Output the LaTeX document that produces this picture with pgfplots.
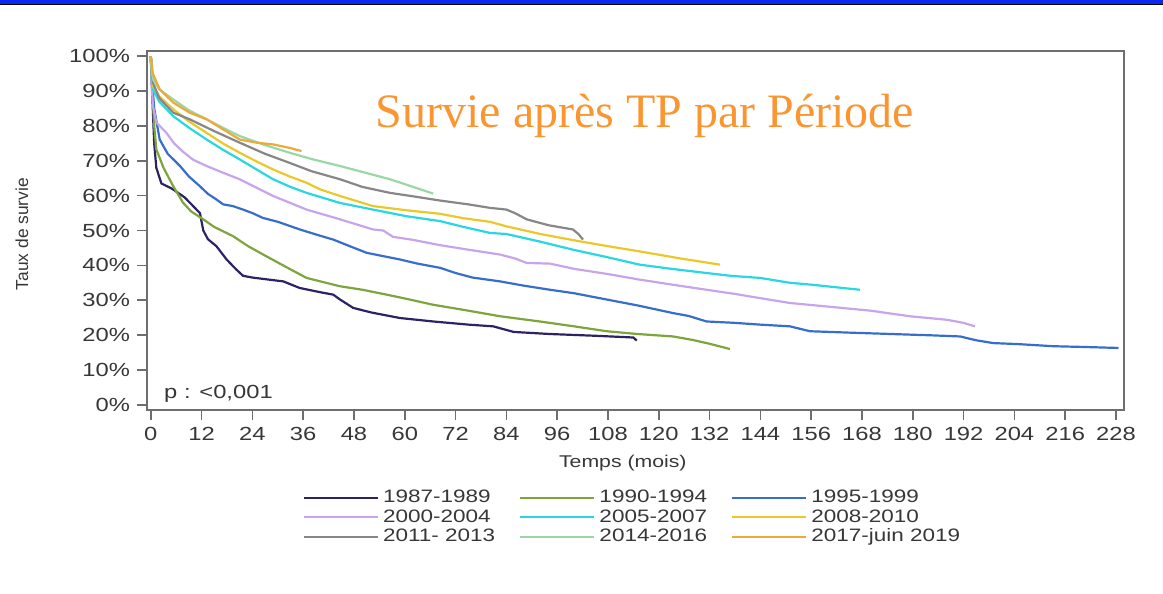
\documentclass[border=0pt]{standalone}
\usepackage{fontspec}
\usepackage{pgfplots}
\pgfplotsset{compat=1.18}
\setmainfont{Liberation Sans}
\newfontfamily\lab[FakeStretch=1.25]{Liberation Sans}
\newfontfamily\titlefont{Liberation Serif}

\definecolor{topblue}{RGB}{10,40,240}
\definecolor{titleorange}{RGB}{250,150,50}
\definecolor{textgray}{RGB}{55,55,55}
\definecolor{axisgray}{RGB}{110,110,110}
\definecolor{cA}{RGB}{45,35,100}
\definecolor{cB}{RGB}{125,165,60}
\definecolor{cC}{RGB}{55,110,205}
\definecolor{cD}{RGB}{200,165,235}
\definecolor{cE}{RGB}{40,215,225}
\definecolor{cF}{RGB}{235,200,40}
\definecolor{cG}{RGB}{135,135,135}
\definecolor{cH}{RGB}{155,215,165}
\definecolor{cI}{RGB}{235,170,60}

\begin{document}
\begin{tikzpicture}
\path[use as bounding box] (0pt,0pt) rectangle (581.5pt,-297pt);
\fill[topblue] (0pt,0pt) rectangle (581.5pt,-2.2pt);
\draw[black, line width=0.6pt] (0pt,-2.4pt) -- (581.5pt,-2.4pt);

\begin{axis}[
  at={(73.5pt,-205pt)}, anchor=south west,
  scale only axis,
  width=488.5pt, height=179.5pt,
  xmin=-0.9, xmax=229.9,
  ymin=-1.5, ymax=101.5,
  xtick={0,12,24,36,48,60,72,84,96,108,120,132,144,156,168,180,192,204,216,228},
  xticklabels={0,12,24,36,48,60,72,84,96,108,120,132,144,156,168,180,192,204,216,228},
  ytick={0,10,20,30,40,50,60,70,80,90,100},
  yticklabels={0\%,10\%,20\%,30\%,40\%,50\%,60\%,70\%,80\%,90\%,100\%},
  tick align=outside,
  major tick length=5pt,
  xtick pos=bottom, ytick pos=left,
  axis line style={draw=axisgray, line width=0.8pt},
  tick style={draw=axisgray, line width=0.8pt},
  ticklabel style={font=\lab\fontsize{9.5}{10}\selectfont, text=textgray},
  xlabel={Temps (mois)},
  xlabel style={font=\lab\fontsize{8.5}{10}\selectfont, text=textgray,
    at={(axis description cs:0.487,0)}, anchor=center, yshift=-26.5pt},
  ylabel={Taux de survie},
  ylabel style={font=\fontsize{8.7}{10}\selectfont, text=textgray,
    at={(axis description cs:-0.128,0.49)}, anchor=center},
  legend columns=3,
  legend cell align=left,
  legend image code/.code={\draw[#1] (0pt,0pt) -- (37pt,0pt);},
  legend style={draw=none, fill=none,
    at={(axis description cs:0.498,0)}, anchor=north, yshift=-36pt,
    font=\lab\fontsize{9}{10}\selectfont, text=textgray,
    row sep=-2.2pt,
    /tikz/every even column/.append style={column sep=10pt}},
  every axis plot/.append style={line width=1.1pt, no markers},
]
% 1987-1989
\addplot[cA] coordinates {(0,100) (0.3,90) (0.8,75) (1.3,68) (2.5,63.5) (5,62) (8,59.5) (10,57) (11.6,55) (12.4,50) (13.5,47.5) (15.5,45.5) (17.9,41.7) (20.2,38.8) (21.8,37) (24,36.5) (31.3,35.4) (35.2,33.5) (40,32.3) (43.1,31.6) (44.7,30.2) (47.8,27.8) (52,26.5) (58.8,24.9) (66.7,23.9) (75,23) (80.9,22.5) (85.7,20.9) (94.3,20.3) (105,19.8) (114,19.3) (114.8,18.4)};
% 1990-1994
\addplot[cB] coordinates {(0,100) (0.3,92) (0.8,80) (1.3,73.3) (3,68) (5.3,62.7) (7.6,58) (9.5,55.5) (12.4,53.2) (15,51) (19.4,48.4) (23,45.5) (27.3,42.6) (32,39.5) (36.8,36.4) (44.7,34) (50,33) (55.7,31.6) (60,30.5) (66.7,28.7) (75,27) (82.5,25.4) (91.9,23.9) (100,22.5) (107.7,21.1) (115,20.3) (123.4,19.6) (128,18.6) (132,17.5) (136.8,16)};
% 1995-1999
\addplot[cC] coordinates {(0,100) (0.3,93) (0.8,85) (2.1,76.1) (4,72) (6.9,68.5) (9,65.5) (11.6,62.7) (13.5,60.5) (15.5,58.9) (17.1,57.5) (19.4,57) (21.8,56) (24,55) (26.5,53.6) (30,52.5) (35.2,50.3) (40,48.5) (43.1,47.4) (47,45.5) (51,43.6) (58.8,41.7) (63,40.5) (68.3,39.3) (72,37.8) (76,36.5) (82.5,35.4) (88,34.2) (94.3,33) (100,32) (107.7,30.2) (115,28.5) (123.4,26.3) (127,25.5) (131.3,23.9) (138,23.5) (143.9,23) (151,22.5) (155.7,21.1) (165,20.7) (175,20.3) (185,19.9) (191.2,19.6) (195,18.5) (199,17.7) (205,17.4) (213.2,16.8) (220,16.6) (228.6,16.3)};
% 2000-2004
\addplot[cD] coordinates {(0,100) (0.2,92) (0.5,85.7) (1.3,81) (3.7,78) (5.5,75) (7.6,72.6) (10,70.3) (13.2,68.5) (17,66.6) (21,64.7) (28.9,59.9) (36.8,56) (44.7,53.2) (52.5,50.3) (54.9,50) (57.2,48.2) (62,47.3) (68.3,45.8) (75,44.5) (82.5,43.1) (86,42) (88.8,40.7) (94.3,40.5) (100,39) (108,37.5) (115.5,35.9) (123,34.5) (131.3,33) (138,31.8) (143.9,30.6) (151,29.2) (159.7,28.2) (170,27) (179.3,25.4) (188,24.4) (192,23.5) (194.7,22.5)};
% 2005-2007
\addplot[cE] coordinates {(0,100) (0.2,94) (0.5,90.5) (2,87) (5.3,82.8) (9,79.5) (13.2,76.1) (17,73.2) (21,70.4) (25,67.5) (28.9,64.7) (32.8,62.6) (36.8,60.8) (44.7,57.9) (52.5,56) (60.4,54.1) (68.3,52.7) (74,51) (80.1,49.3) (84,49) (92,46.8) (99.7,44.5) (108,42.3) (115.5,40.2) (123,39) (131.3,37.8) (137,37) (143.9,36.4) (151,35) (155.7,34.5) (162,33.7) (167.5,33)};
% 2008-2010
\addplot[cF] coordinates {(0,100) (0.2,95) (0.5,91.5) (2,88.5) (5.3,84.8) (9,81.3) (13.2,78) (17,75) (21,72.3) (25,69.8) (28.9,67.5) (32.8,65.5) (36.8,63.7) (40,61.8) (44.7,59.9) (52.5,57) (60.4,55.8) (68.3,54.8) (74,53.5) (80.1,52.5) (84,51.2) (92,49) (101.3,46.9) (108,45.5) (115.5,44) (125,42) (134.5,40.2)};
% 2011-2013
\addplot[cG] coordinates {(0,100) (0.2,95) (0.5,92.4) (2,88) (5.3,83.8) (9.2,81.9) (15,78.5) (21,75.2) (27,72) (32.8,69.4) (38,67) (44.7,64.7) (50,62.5) (56.5,60.8) (62,59.8) (68.3,58.6) (75,57.5) (80.1,56.5) (84,56) (86,55) (88.8,53.2) (94,51.5) (99.7,50.3) (101,49) (102.1,47.4)};
% 2014-2016
\addplot[cH] coordinates {(0,100) (0.2,96) (0.5,93.4) (2,90.5) (5.3,87.6) (9,84.5) (13.2,81.9) (17,79.5) (21,77.1) (27,74.5) (32.8,72.3) (38,70.5) (44.7,68.5) (50,66.8) (56.5,64.7) (62,62.5) (66.7,60.6)};
% 2017-juin 2019
\addplot[cI] coordinates {(0,100) (0.5,95) (2.1,90.5) (5.3,86.7) (9.2,83.8) (13.2,81.9) (17.1,79) (21,76.1) (25,75.2) (28.9,74.7) (32.8,73.7) (35.6,72.8)};
\legend{1987-1989, 1990-1994, 1995-1999, 2000-2004, 2005-2007, 2008-2010, 2011- 2013, 2014-2016, 2017-juin 2019}
\node[anchor=base west, font=\lab\fontsize{9.5}{10}\selectfont, text=textgray] at (axis cs:1.5,1.7) {p : <0,001};
\end{axis}

\node[anchor=base, font=\titlefont\fontsize{24}{28}\selectfont, text=titleorange] at (322.5pt,-63.5pt) {Survie après TP par Période};
\end{tikzpicture}
\end{document}
